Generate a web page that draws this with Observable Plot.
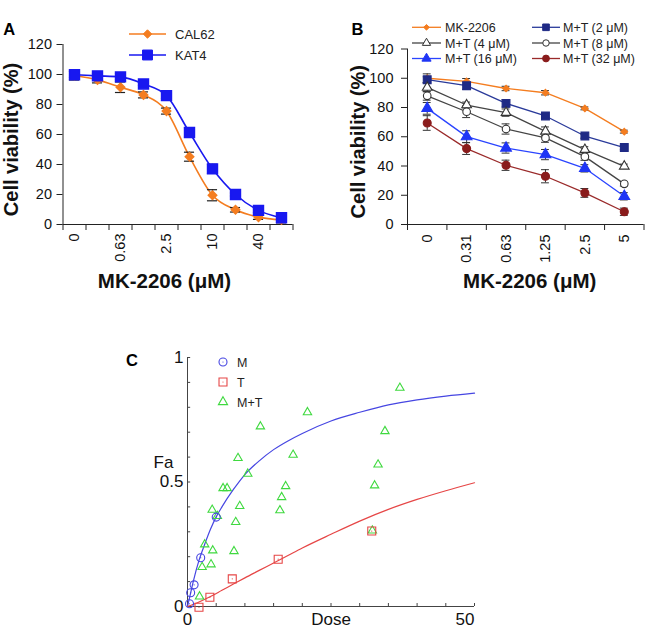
<!DOCTYPE html>
<html><head><meta charset="utf-8">
<script src="https://cdn.jsdelivr.net/npm/d3@7"></script>
<script src="https://cdn.jsdelivr.net/npm/@observablehq/plot@0.6"></script>
<style>
body{margin:0;background:#fff;}
#fig{position:relative;width:650px;height:628px;overflow:hidden;background:#fff;}
#fig > svg{position:absolute;}
</style></head>
<body><div id="fig"></div>
<script>
// ---------- Panel A data ----------
const doseA = ["0","0.31","0.63","1.25","2.5","5","10","20","40","80"];
const labelIdxA = [0,2,4,6,8];
const namesA = ["CAL62","KAT4"];
const cal62 = [99.3,96.4,91.5,86.4,75.6,45.2,19.5,9.8,4.9,3.1];
const cal62Err = [3,2,3.5,2,2,3,3.7,1.5,1.5,2];
const kat4 = [99.8,99.1,98.4,93.7,85.9,61.3,37.1,20,9.4,4.5];
const kat4Err = [2,1.5,2,1,2,3,3,1,1.5,1];
const yTicks = [0,20,40,60,80,100,120];
const yLabelAB = "Cell viability (%)";
const xLabelAB = "MK-2206 (μM)";

// ---------- Panel B data ----------
const doseB = ["0","0.31","0.63","1.25","2.5","5"];
const namesB = ["MK-2206","M+T (2 μM)","M+T (4 μM)","M+T (8 μM)","M+T (16 μM)","M+T (32 μM)"];
const bMK   = [100,97.8,93,90.1,79.4,63.5];
const bMKe  = [3,2,1.5,1.5,1,1];
const bMT2  = [99,94.9,82.8,74.2,60.5,52.6];
const bMT2e = [2,2.5,2.5,1.5,1.5,1.5];
const bMT4  = [93.7,81.7,76.5,63.7,51.2,39.8];
const bMT4e = [3,2,2.5,3,2,1.5];
const bMT8  = [88,77.1,65.3,59.2,46.4,27.8];
const bMT8e = [3,4,3.5,3,2.5,1.5];
const bMT16 = [79.4,60.1,52.3,47.8,38.4,19.3];
const bMT16e= [4,4,3.5,3.5,2.5,2.5];
const bMT32 = [69.4,51.9,40.5,33,21.6,8.7];
const bMT32e= [5,4,3.5,4.5,3,2.5];

// ---------- Panel C data ----------
const namesC = ["M","T","M+T"];
const mDose = [0.35,0.55,1.15,2.3,5.0];
const mFa   = [0.011,0.055,0.087,0.196,0.359];
const tDose = [2,3.9,7.8,15.8,32.1];
const tFa   = [-0.003,0.037,0.111,0.19,0.303];
const mtDose = [2.1,2.55,3.0,4.1,4.4,4.3,5.2,6.2,6.9,8.1,8.4,9.1,8.8,10.5,12.7,16.1,16.4,17.1,18.4,20.9,32.2,32.6,33.2,34.4,37.0];
const mtFa   = [0.04,0.158,0.249,0.169,0.225,0.388,0.363,0.475,0.475,0.222,0.339,0.403,0.596,0.533,0.723,0.386,0.439,0.483,0.609,0.78,0.305,0.486,0.57,0.704,0.878];
const mCurveDose = [0,0.5,1,2,3,4,5,6,8,10,12.5,15,17.5,20,25,30,35,40,45,50];
const mCurveFa   = [0,0.05,0.1,0.185,0.25,0.31,0.36,0.4,0.47,0.53,0.585,0.63,0.665,0.695,0.745,0.78,0.81,0.83,0.845,0.857];
const tCurveDose = [0,2,4,6,8,10,12.5,15,17.5,20,25,30,35,40,45,50];
const tCurveFa   = [0,0.018,0.04,0.065,0.09,0.115,0.145,0.175,0.205,0.235,0.29,0.343,0.39,0.43,0.465,0.497];
const cXTicks = [0,5,10,15,20,25,30,35,40,45,50];
const cYTicks = [0,0.1,0.2,0.3,0.4,0.5,0.6,0.7,0.8,0.9,1];
const cYLabelVals = [0,0.5,1];
const cYLabels = ["0","0.5","1"];
const cXLabelVals = [0,50];
const cXLabels = ["0","50"];
const cXTitle = "Dose";
const cYTitle = "Fa";

// ---------- styles ----------
const FONT = "'Liberation Sans', Arial, Helvetica, sans-serif";
const styleA = [
  {color:"#f47d20", symbol:"diamond2", r:3.8, fill:"#f47d20"},
  {color:"#1818f0", symbol:"square", r:5.6, fill:"#1818f0"}
];
const styleB = [
  {color:"#f47d20", line:"#f47d20", symbol:"diamond2", r:3, fill:"#f47d20"},
  {color:"#1f2a85", line:"#2a3a9a", symbol:"square", r:4.4, fill:"#1f2a85"},
  {color:"#333", line:"#444", symbol:"triangle", r:3.6, fill:"#fff"},
  {color:"#333", line:"#444", symbol:"circle", r:3.8, fill:"#fff"},
  {color:"#1f35f5", line:"#2a44ff", symbol:"triangle", r:4, fill:"#1f35f5"},
  {color:"#8a1c1c", line:"#9a2a2a", symbol:"circle", r:4, fill:"#8a1c1c"}
];
const cBlue = "#4646e2", cRed = "#e64646", cGreen = "#3fd93f";

const fig = document.getElementById("fig");
function place(el, left, top){ el.style.position="absolute"; el.style.left=left+"px"; el.style.top=top+"px"; fig.appendChild(el); }

// ---------- Panel A ----------
const seriesA = [{v:cal62, e:cal62Err},{v:kat4, e:kat4Err}];
const rowsA = [];
seriesA.forEach((s,k)=> s.v.forEach((v,i)=> rowsA.push({k, i, v, e:s.e[i]})));
const xDomA = [-0.5, doseA.length-0.5];
const edgesA = d3.range(xDomA[0], xDomA[1]+0.01, 1);
const capA = 0.22;
const marksA = [
  Plot.ruleY([0], {x1:xDomA[0], x2:xDomA[1], stroke:"#222"}),
  Plot.ruleX([xDomA[0]], {y1:0, y2:120, stroke:"#222"}),
  Plot.axisY({ticks:yTicks, tickSize:6, tickPadding:5, label:null, stroke:"#222"}),
  Plot.axisX({ticks:edgesA, tickSize:6, tickFormat:()=>"", label:null, stroke:"#222"}),
  Plot.axisX({ticks:labelIdxA, tickSize:0, tickPadding:9, tickRotate:-90, tickFormat:i=>doseA[i], label:null}),
];
namesA.forEach((n,k)=>{
  marksA.push(Plot.line(rowsA.filter(d=>d.k===k), {x:"i", y:"v", stroke:styleA[k].color, strokeWidth:1.6, curve:"monotone-x"}));
});
marksA.push(
  Plot.ruleX(rowsA, {x:"i", y1:d=>d.v-d.e, y2:d=>d.v+d.e, stroke:"#222", strokeWidth:1.2}),
  Plot.ruleY(rowsA, {y:d=>d.v+d.e, x1:d=>d.i-capA, x2:d=>d.i+capA, stroke:"#222", strokeWidth:1.2}),
  Plot.ruleY(rowsA, {y:d=>d.v-d.e, x1:d=>d.i-capA, x2:d=>d.i+capA, stroke:"#222", strokeWidth:1.2})
);
namesA.forEach((n,k)=>{
  const s = styleA[k];
  marksA.push(Plot.dot(rowsA.filter(d=>d.k===k), {x:"i", y:"v", symbol:s.symbol, r:s.r, fill:s.fill, stroke:s.color}));
});
marksA.push(
  Plot.text([yLabelAB], {text:d=>d, frameAnchor:"left", textAnchor:"middle", lineAnchor:"middle", rotate:-90, dx:-51, dy:5, fontSize:20, fontWeight:"bold", fill:"#111"}),
  Plot.text([xLabelAB], {text:d=>d, frameAnchor:"bottom", textAnchor:"middle", lineAnchor:"middle", dx:-13.5, dy:57, fontSize:20.5, fontWeight:"bold", fill:"#111"})
);
const plotA = Plot.plot({
  width:320, height:300, marginLeft:62.5, marginRight:27.5, marginTop:44, marginBottom:76,
  style:{fontFamily:FONT, fontSize:"14.5px", color:"#111", background:"none", overflow:"visible"},
  x:{type:"linear", domain:xDomA}, y:{domain:[0,120]},
  marks:marksA
});
place(plotA, 0, 0);

// ---------- Panel B ----------
const seriesB = [{v:bMK,e:bMKe},{v:bMT2,e:bMT2e},{v:bMT4,e:bMT4e},{v:bMT8,e:bMT8e},{v:bMT16,e:bMT16e},{v:bMT32,e:bMT32e}];
const rowsB = [];
seriesB.forEach((s,k)=> s.v.forEach((v,i)=> rowsB.push({k, i, v, e:s.e[i]})));
const xDomB = [-0.5, doseB.length-0.5];
const edgesB = d3.range(xDomB[0], xDomB[1]+0.01, 1);
const capB = 0.1;
const marksB = [
  Plot.ruleY([0], {x1:xDomB[0], x2:xDomB[1], stroke:"#222"}),
  Plot.ruleX([xDomB[0]], {y1:0, y2:120, stroke:"#222"}),
  Plot.axisY({ticks:yTicks, tickSize:6, tickPadding:8, label:null, stroke:"#222"}),
  Plot.axisX({ticks:edgesB, tickSize:6, tickFormat:()=>"", label:null, stroke:"#222"}),
  Plot.axisX({ticks:d3.range(doseB.length), tickSize:0, tickPadding:10, tickRotate:-90, tickFormat:i=>doseB[i], label:null}),
];
namesB.forEach((n,k)=>{
  marksB.push(Plot.line(rowsB.filter(d=>d.k===k), {x:"i", y:"v", stroke:styleB[k].line, strokeWidth:1.3}));
});
marksB.push(
  Plot.ruleX(rowsB, {x:"i", y1:d=>d.v-d.e, y2:d=>d.v+d.e, stroke:"#333", strokeWidth:1}),
  Plot.ruleY(rowsB, {y:d=>d.v+d.e, x1:d=>d.i-capB, x2:d=>d.i+capB, stroke:"#333", strokeWidth:1}),
  Plot.ruleY(rowsB, {y:d=>d.v-d.e, x1:d=>d.i-capB, x2:d=>d.i+capB, stroke:"#333", strokeWidth:1})
);
namesB.forEach((n,k)=>{
  const s = styleB[k];
  marksB.push(Plot.dot(rowsB.filter(d=>d.k===k), {x:"i", y:"v", symbol:s.symbol, r:s.r, fill:s.fill, stroke:s.color, strokeWidth:1.1}));
});
marksB.push(
  Plot.text([yLabelAB], {text:d=>d, frameAnchor:"left", textAnchor:"middle", lineAnchor:"middle", rotate:-90, dx:-49, dy:5, fontSize:20, fontWeight:"bold", fill:"#111"}),
  Plot.text([xLabelAB], {text:d=>d, frameAnchor:"bottom", textAnchor:"middle", lineAnchor:"middle", dx:4, dy:57, fontSize:20.5, fontWeight:"bold", fill:"#111"})
);
const plotB = Plot.plot({
  width:330, height:300, marginLeft:87, marginRight:6.5, marginTop:48.5, marginBottom:76,
  style:{fontFamily:FONT, fontSize:"14.5px", color:"#111", background:"none", overflow:"visible"},
  x:{type:"linear", domain:xDomB}, y:{domain:[0,120]},
  marks:marksB
});
place(plotB, 320, 0);

// ---------- Panel C ----------
const mPts = mDose.map((d,i)=>({d, fa:mFa[i]}));
const tPts = tDose.map((d,i)=>({d, fa:tFa[i]}));
const mtPts = mtDose.map((d,i)=>({d, fa:mtFa[i]}));
const mCurve = mCurveDose.map((d,i)=>({d, fa:mCurveFa[i]}));
const tCurve = tCurveDose.map((d,i)=>({d, fa:tCurveFa[i]}));
const xDomC = [0,50], yDomC = [0,1];
const tickFx = 0.011*(xDomC[1]-xDomC[0]) , tickFy = 0.012*(yDomC[1]-yDomC[0]);
const plotC = Plot.plot({
  width:380, height:298, marginLeft:67, marginRight:26, marginTop:27, marginBottom:22,
  style:{fontFamily:FONT, fontSize:"17px", color:"#111", background:"none", overflow:"visible"},
  x:{domain:xDomC, axis:null}, y:{domain:yDomC, axis:null},
  marks:[
    Plot.ruleX(cXTicks, {x:d=>d, y1:yDomC[0], y2:yDomC[0]+tickFy, stroke:"#444"}),
    Plot.ruleY(cYTicks, {y:d=>d, x1:xDomC[0], x2:xDomC[0]+tickFx, stroke:"#444"}),
    Plot.ruleX([xDomC[0]], {y1:yDomC[0], y2:yDomC[1], stroke:"#444"}),
    Plot.ruleY([yDomC[0]], {x1:xDomC[0], x2:xDomC[1], stroke:"#444"}),
    Plot.text(cYLabelVals, {y:d=>d, text:(d,i)=>cYLabels[i], frameAnchor:"left", textAnchor:"end", lineAnchor:"middle", dx:-4, fill:"#111"}),
    Plot.text(cXLabelVals.slice(0,1), {x:d=>d, text:(d,i)=>cXLabels[i], frameAnchor:"bottom", lineAnchor:"top", dy:6, textAnchor:"middle", fill:"#111"}),
    Plot.text(cXLabelVals.slice(1), {x:d=>d, text:(d,i)=>cXLabels[i+1], frameAnchor:"bottom", lineAnchor:"top", dy:6, textAnchor:"end", fill:"#111"}),
    Plot.text([cXTitle], {text:d=>d, frameAnchor:"bottom", textAnchor:"middle", lineAnchor:"top", dy:6, fill:"#111"}),
    Plot.text([cYTitle], {text:d=>d, frameAnchor:"left", textAnchor:"middle", lineAnchor:"middle", dx:-24, dy:-19, fill:"#111"}),
    Plot.line(mCurve, {x:"d", y:"fa", stroke:cBlue, strokeWidth:1.2, curve:"monotone-x"}),
    Plot.line(tCurve, {x:"d", y:"fa", stroke:cRed, strokeWidth:1.2, curve:"monotone-x"}),
    Plot.dot(mtPts, {x:"d", y:"fa", symbol:"triangle", r:3.1, stroke:cGreen, fill:"none", strokeWidth:1.1}),
    Plot.dot(tPts, {x:"d", y:"fa", symbol:"square", r:4.5, stroke:cRed, fill:"none", strokeWidth:1.1}),
    Plot.dot(tPts, {x:"d", y:"fa", r:0.6, fill:cRed}),
    Plot.dot(mPts, {x:"d", y:"fa", symbol:"circle", r:4, stroke:cBlue, fill:"none", strokeWidth:1.1}),
    Plot.dot(mPts, {x:"d", y:"fa", r:0.6, fill:cBlue}),
  ]
});
place(plotC, 120, 330);

// ---------- overlay: panel letters + legends ----------
const ov = d3.select("#fig").append("svg").attr("width",650).attr("height",628)
  .style("left","0px").style("top","0px").style("font-family",FONT).style("pointer-events","none");
const symMap = {circle:d3.symbolCircle, square:d3.symbolSquare, triangle:d3.symbolTriangle, diamond2:d3.symbolDiamond2};
function sym(type, r){ return d3.symbol(symMap[type], Math.PI*r*r)(); }
[["A",3.3,35],["B",351.5,35],["C",126,366]].forEach(([t,x,y])=>{
  ov.append("text").attr("x",x).attr("y",y).attr("font-size",16.5).attr("font-weight","bold").attr("fill","#000").text(t);
});
// legend A
const legA = [{x0:129,x1:166,y:34,tx:175},{x0:129,x1:166,y:55,tx:175}];
namesA.forEach((n,k)=>{
  const L = legA[k], s = styleA[k], cx=(L.x0+L.x1)/2;
  ov.append("line").attr("x1",L.x0).attr("x2",L.x1).attr("y1",L.y).attr("y2",L.y).attr("stroke",s.color).attr("stroke-width",1.6);
  ov.append("path").attr("d",sym(s.symbol,s.r)).attr("transform",`translate(${cx},${L.y})`).attr("fill",s.fill).attr("stroke",s.color);
  ov.append("text").attr("x",L.tx).attr("y",L.y).attr("dy","0.36em").attr("font-size",13).attr("fill","#222").text(n);
});
// legend B (col 1: MK-2206, M+T 4, M+T 16; col 2: M+T 2, M+T 8, M+T 32)
const legB = [
  {x0:412,x1:441,y:27.3,tx:445},{x0:532,x1:560,y:27.3,tx:563},
  {x0:412,x1:441,y:43,tx:445},{x0:532,x1:560,y:43,tx:563},
  {x0:412,x1:441,y:58.5,tx:445},{x0:532,x1:560,y:58.5,tx:563}
];
namesB.forEach((n,k)=>{
  const L = legB[k], s = styleB[k], cx=(L.x0+L.x1)/2;
  ov.append("line").attr("x1",L.x0).attr("x2",L.x1).attr("y1",L.y).attr("y2",L.y).attr("stroke",s.line).attr("stroke-width",1.3);
  ov.append("path").attr("d",sym(s.symbol,s.r*0.85)).attr("transform",`translate(${cx},${L.y})`).attr("fill",s.fill).attr("stroke",s.color);
  ov.append("text").attr("x",L.tx).attr("y",L.y).attr("dy","0.36em").attr("font-size",12.5).attr("fill","#222").text(n);
});
// legend C
const legC = [{x:223,y:362,sym:"circle",r:4,c:cBlue,dot:true},{x:223,y:382,sym:"square",r:4.5,c:cRed,dot:true},{x:223,y:402,sym:"triangle",r:3.4,c:cGreen,dot:false}];
namesC.forEach((n,k)=>{
  const L = legC[k];
  ov.append("path").attr("d",sym(L.sym,L.r)).attr("transform",`translate(${L.x},${L.y})`).attr("fill","none").attr("stroke",L.c).attr("stroke-width",1.1);
  if (L.dot) ov.append("circle").attr("cx",L.x).attr("cy",L.y).attr("r",0.6).attr("fill",L.c);
  ov.append("text").attr("x",L.x+14).attr("y",L.y).attr("dy","0.36em").attr("font-size",12.5).attr("fill","#222").text(n);
});
</script>
</body></html>
